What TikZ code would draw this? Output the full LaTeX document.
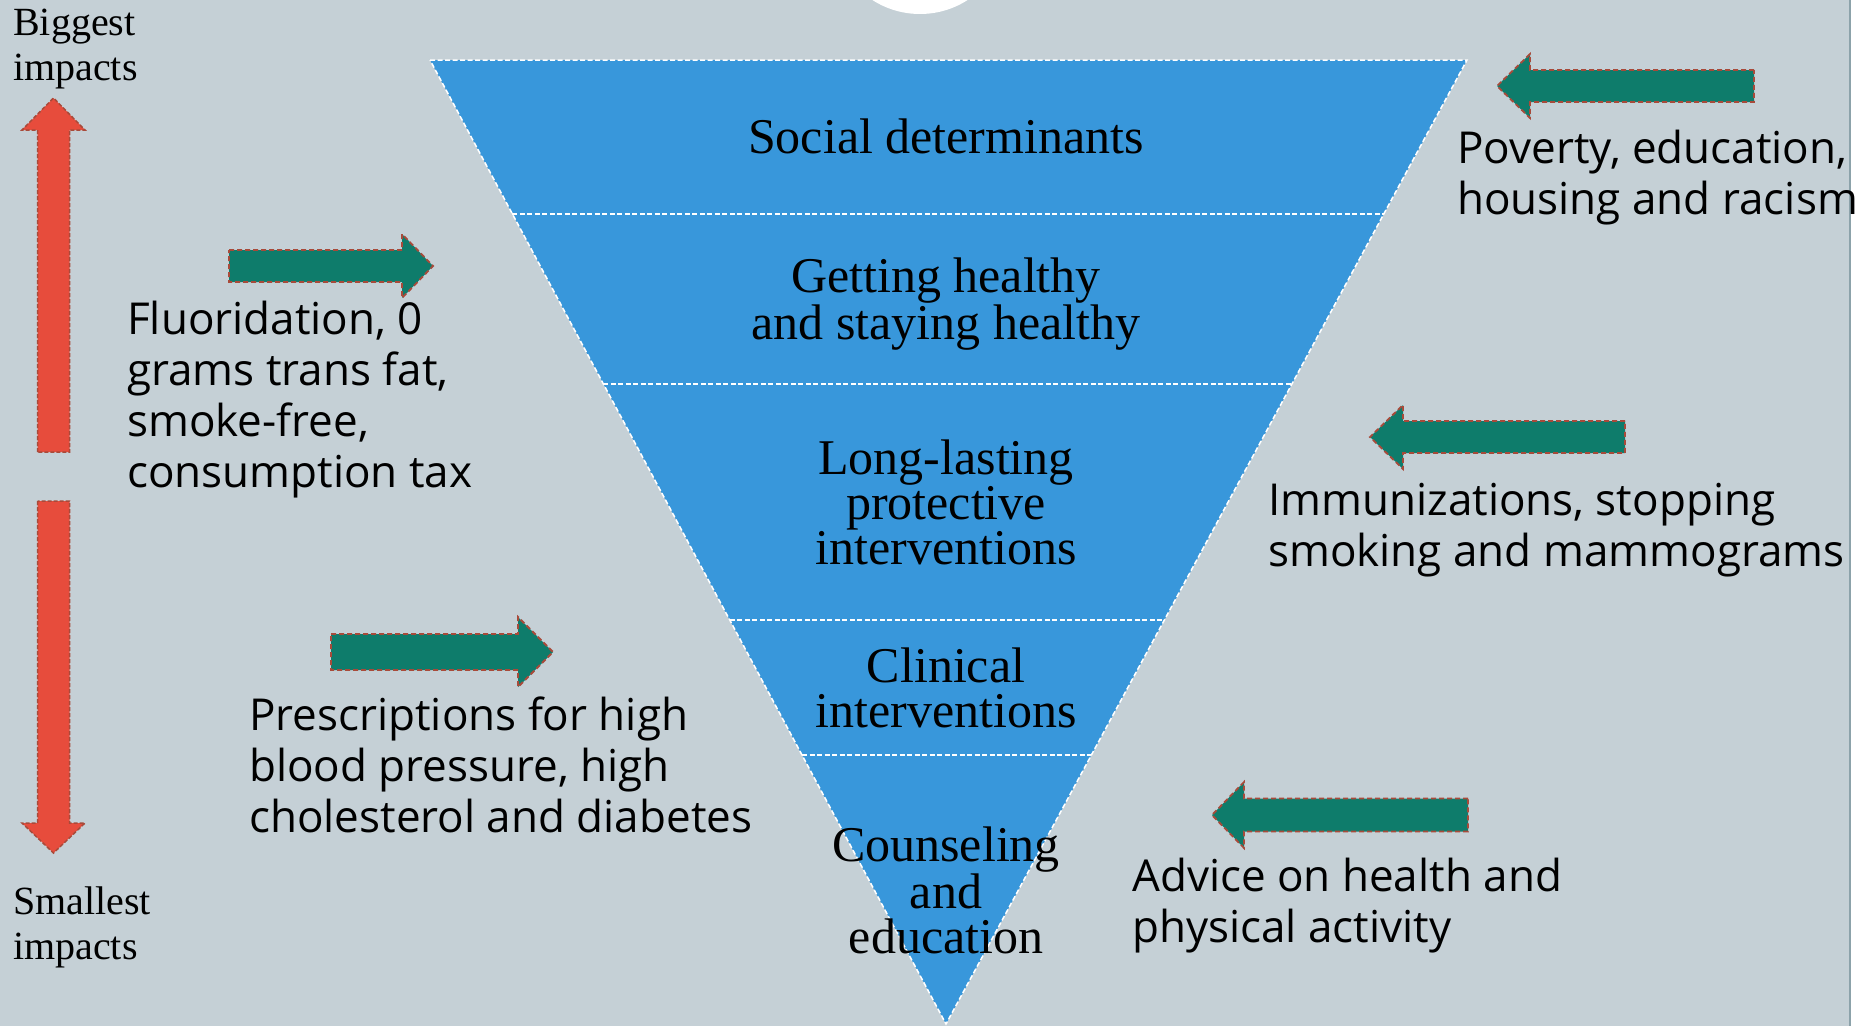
\documentclass[tikz,border=0pt]{standalone}
\usepackage{fontspec}
\setmainfont{Liberation Serif}
\newfontfamily\sansfnt{Open Sans}
\usetikzlibrary{calc}
\definecolor{bgcol}{RGB}{197,208,214}
\definecolor{tricol}{RGB}{56,151,219}
\definecolor{greencol}{RGB}{14,124,107}
\definecolor{redcol}{RGB}{231,76,60}
\definecolor{edgecol}{RGB}{168,74,58}
\definecolor{framecol}{RGB}{140,162,170}
% block arrows: (tail:back of head:tip:axis)(half shaft:half head)
\def\harrow[#1](#2:#3:#4:#5)(#6:#7){\draw[#1] (#2,#5-#6) -- (#3,#5-#6) -- (#3,#5-#7) -- (#4,#5) -- (#3,#5+#7) -- (#3,#5+#6) -- (#2,#5+#6) -- cycle;}
\def\varrow[#1](#2:#3:#4:#5)(#6:#7){\draw[#1] (#5-#6,#2) -- (#5-#6,#3) -- (#5-#7,#3) -- (#5,#4) -- (#5+#7,#3) -- (#5+#6,#3) -- (#5+#6,#2) -- cycle;}

\begin{document}
\begin{tikzpicture}[x=1pt, y=-1pt,
    tri/.style={fill=tricol, draw=white, line width=1.5pt, dash pattern=on 5pt off 2.5pt},
    band/.style={draw=white, line width=1.5pt, dash pattern=on 5pt off 2.5pt},
    greenarrow/.style={fill=greencol, draw=edgecol, line width=1.8pt, dash pattern=on 5pt off 3pt},
    redarrow/.style={fill=redcol, draw=edgecol, line width=1.5pt, dash pattern=on 4pt off 2pt},
    tritext/.style={align=center, inner sep=0pt, anchor=base, font=\fontsize{50}{45}\selectfont},
    sidetext/.style={align=left, inner sep=0pt, anchor=base west, font=\sansfnt\fontsize{44}{51}\selectfont},
    impacttext/.style={align=left, inner sep=0pt, anchor=base west, font=\fontsize{40}{44.5}\selectfont}]
			%%%%% START %%%%%
			\useasboundingbox (0,0) rectangle (1862,1026);
			\clip (0,0) rectangle (1862,1026);
			\fill[bgcol] (0,0) rectangle (1862,1026);
			\fill[white] (1851,0) rectangle (1862,1026);
			\draw[framecol, line width=2pt] (1850,0) -- (1850,1026);
			\fill[white] (920,-74) circle (88);
			
			% inverted triangle
			\coordinate (tl) at (430,60);
			\coordinate (tr) at (1467,60);
			\coordinate (apex) at (946,1024);
			\draw[tri] (tl) -- (tr) -- (apex) -- cycle;
			\foreach \f in {0.1598,0.3361,0.5809,0.7210}
				\draw[band] ($(tl)!\f!(apex)$) -- ($(tr)!\f!(apex)$);
			
			% nodes are placed at the baseline of their last line
			\node[tritext] (social) at (946,153) {Social determinants};
			\node[tritext] (healthy) at (946,339) {Getting healthy\\and staying healthy};
			\node[tritext] (lasting) at (946,564) {Long-lasting\\protective\\interventions};
			\node[tritext] (clinical) at (946,727) {Clinical\\interventions};
			\node[tritext] (counsel) at (946,953) {Counseling\\and\\education};
			
			% impact scale
			\varrow[redarrow](452:130:98:53.5)(16:31.5);
			\varrow[redarrow](501:823:853:53.5)(16:31.5);
			\node[impacttext] (biggest) at (13,80) {Biggest\\impacts};
			\node[impacttext] (smallest) at (13,959) {Smallest\\impacts};
			
			% left side
			\harrow[greenarrow](229:402:433:266)(16:32);
			\node[sidetext] (fluor) at (127,487) {Fluoridation, 0\\grams trans fat,\\smoke-free,\\consumption tax};
			\harrow[greenarrow](331:518:553:652)(18:35);
			\node[sidetext] (presc) at (249,832) {Prescriptions for high\\blood pressure, high\\cholesterol and diabetes};
			
			% right side
			\harrow[greenarrow](1754:1530:1497:86)(16:32);
			\node[sidetext] (poverty) at (1457,214) {Poverty, education,\\housing and racism};
			\harrow[greenarrow](1625:1403:1370:437)(16:32);
			\node[sidetext] (immun) at (1268,566) {Immunizations, stopping\\smoking and mammograms};
			\harrow[greenarrow](1468:1244:1212:815)(16.5:33);
			\node[sidetext] (advice) at (1132,942) {Advice on health and\\physical activity};
			%%%%% END %%%%%
\end{tikzpicture}
\end{document}
